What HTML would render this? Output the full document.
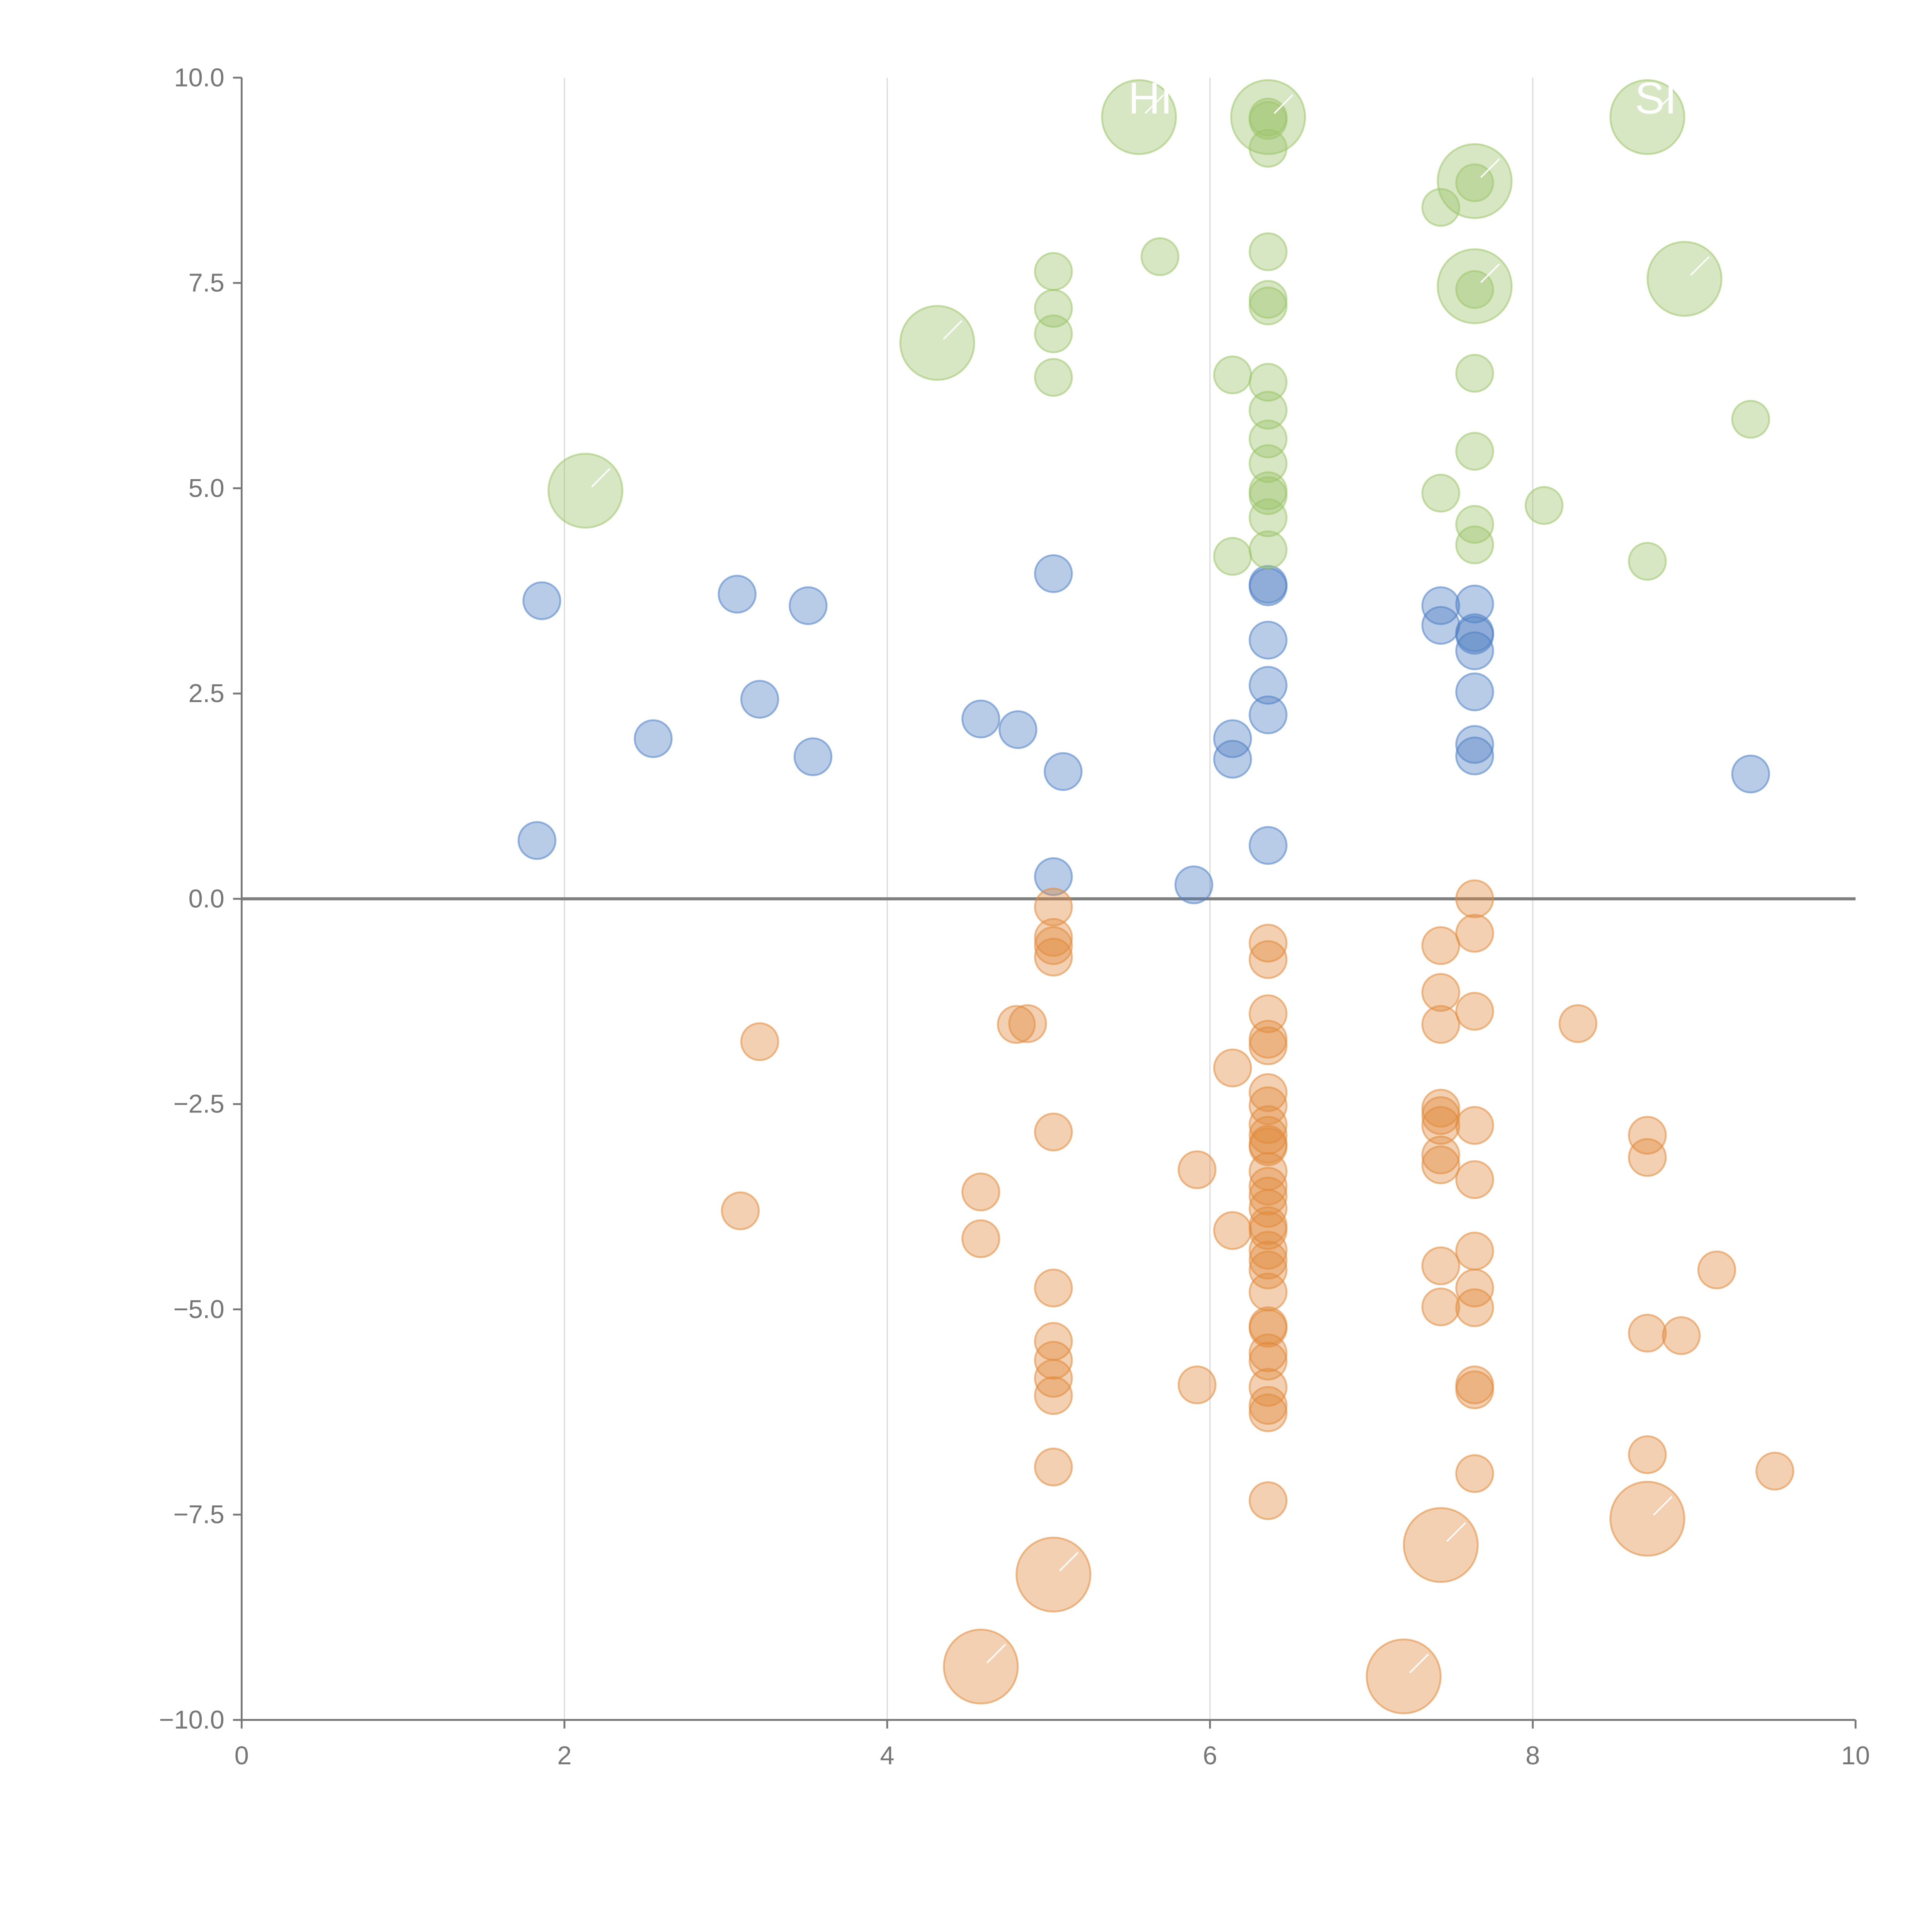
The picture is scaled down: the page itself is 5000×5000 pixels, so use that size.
<!DOCTYPE html>
<html><head><meta charset="utf-8"><style>
html,body{margin:0;padding:0;background:#fff;}
svg{display:block;}
text{font-family:"Liberation Sans",Arial,sans-serif;}
</style></head><body>
<svg id="chart" width="5000" height="5000" viewBox="0 0 1567 1567" xmlns="http://www.w3.org/2000/svg">
<g id="grid"></g>
<g id="axes"></g>
<g id="marks"></g>
<g id="labels"></g>
</svg>
<script>
const xTicks=[0,2,4,6,8,10];
const yTicks=[-10,-7.5,-5,-2.5,0,2.5,5,7.5,10];
const bluePoints=[[1.86,3.63],[3.07,3.71],[3.51,3.57],[3.21,2.43],[2.55,1.95],[3.54,1.73],[1.83,0.71],[4.58,2.19],[4.81,2.06],[5.09,1.55],[5.03,3.96],[5.03,0.27],[5.90,0.17],[6.14,1.95],[6.14,1.70],[6.36,3.83],[6.36,3.80],[6.36,3.15],[6.36,2.6],[6.36,2.24],[6.36,0.65],[7.43,3.57],[7.43,3.33],[7.64,3.59],[7.64,3.24],[7.64,3.21],[7.64,3.02],[7.64,2.52],[7.64,1.88],[7.64,1.74],[9.35,1.52]];
const greenPoints=[[5.03,7.64],[5.03,7.19],[5.03,6.88],[5.03,6.35],[5.69,7.82],[6.14,6.38],[6.14,4.17],[6.36,9.52],[6.36,9.48],[6.36,9.14],[6.36,7.88],[6.36,7.30],[6.36,7.22],[6.36,6.29],[6.36,5.95],[6.36,5.6],[6.36,5.3],[6.36,4.97],[6.36,4.91],[6.36,4.64],[6.36,4.25],[7.43,8.42],[7.43,4.94],[7.64,8.72],[7.64,7.42],[7.64,6.4],[7.64,5.45],[7.64,4.56],[7.64,4.31],[8.07,4.79],[8.71,4.11],[9.35,5.84]];
const greenBig=[[2.13,4.97],[4.31,6.77],[5.56,9.52],[6.36,9.52],[7.64,8.74],[7.64,7.46],[8.71,9.52],[8.94,7.55]];
const orangePoints=[[7.64,0.0],[5.03,-0.1],[5.03,-0.47],[5.03,-0.57],[5.03,-0.71],[3.21,-1.74],[3.09,-3.8],[4.80,-1.53],[4.87,-1.52],[4.58,-3.57],[4.58,-4.14],[5.03,-2.84],[5.03,-4.74],[5.03,-5.39],[5.03,-5.62],[5.03,-5.84],[5.03,-6.05],[5.03,-6.92],[5.92,-3.30],[5.92,-5.92],[6.14,-2.06],[6.14,-4.04],
[6.36,-0.54],[6.36,-0.74],[6.36,-1.40],[6.36,-1.71],[6.36,-1.79],[6.36,-2.36],[6.36,-2.52],[6.36,-2.75],[6.36,-2.88],[6.36,-2.99],[6.36,-3.02],[6.36,-3.32],[6.36,-3.50],[6.36,-3.62],[6.36,-3.77],[6.36,-3.98],[6.36,-4.04],[6.36,-4.28],[6.36,-4.40],[6.36,-4.52],[6.36,-4.79],[6.36,-5.20],[6.36,-5.23],[6.36,-5.53],[6.36,-5.63],[6.36,-5.95],[6.36,-6.17],[6.36,-6.26],[6.36,-7.33],
[7.43,-0.57],[7.43,-1.14],[7.43,-1.53],[7.43,-2.55],[7.43,-2.64],[7.43,-2.76],[7.43,-3.12],[7.43,-3.24],[7.43,-4.47],[7.43,-4.97],
[7.64,-0.42],[7.64,-1.37],[7.64,-2.76],[7.64,-3.42],[7.64,-4.29],[7.64,-4.74],[7.64,-4.98],[7.64,-5.92],[7.64,-5.98],[7.64,-7.00],
[8.28,-1.52],[8.71,-2.88],[8.71,-3.15],[8.71,-5.29],[8.71,-6.77],[8.92,-5.32],[9.14,-4.52],[9.50,-6.97]];
const orangeBig=[[5.03,-8.23],[4.58,-9.35],[7.20,-9.47],[7.43,-7.87],[8.71,-7.55]];

const X0=196,X1=1505,Y0=1395,Y1=63;
const sx=v=>X0+(v-0)/(10-0)*(X1-X0);
const sy=v=>Y0-(v+10)/20*(Y0-Y1);
const NS="http://www.w3.org/2000/svg";
function mk(parent,tag,attrs){const e=document.createElementNS(NS,tag);for(const k in attrs)e.setAttribute(k,attrs[k]);parent.appendChild(e);return e;}
const grid=document.getElementById('grid'),axes=document.getElementById('axes'),marks=document.getElementById('marks'),labels=document.getElementById('labels');

xTicks.forEach(t=>{
  if(t>0&&t<10){const g=mk(grid,'line',{x1:sx(t),x2:sx(t),y1:Y1,y2:Y0,stroke:'#dcdcdc','stroke-width':1});
  
  }
  const tk=mk(axes,'line',{x1:sx(t),x2:sx(t),y1:Y0,y2:Y0+7,stroke:'#777','stroke-width':1.5});
  
  
  const lb=mk(axes,'text',{x:sx(t),y:Y0+36,'text-anchor':'middle','font-size':21,fill:'#777'});
  lb.textContent=String(t);
  
  
});
yTicks.forEach(t=>{
  const tk=mk(axes,'line',{x1:X0-7,x2:X0,y1:sy(t),y2:sy(t),stroke:'#777','stroke-width':1.5});
  
  
  const lb=mk(axes,'text',{x:X0-14,y:sy(t)+7,'text-anchor':'end','font-size':21,fill:'#777'});
  lb.textContent=(t<0?'\u2212':'')+Math.abs(t).toFixed(1);
  
  
});
const ya=mk(axes,'line',{x1:X0,x2:X0,y1:Y1,y2:Y0,stroke:'#777','stroke-width':1.5});


const xa=mk(axes,'line',{x1:X0,x2:X1,y1:Y0,y2:Y0,stroke:'#777','stroke-width':1.5});


const zl=mk(axes,'line',{x1:X0,x2:X1,y1:sy(0),y2:sy(0),stroke:'#808080','stroke-width':2.5});



function drawSeries(arr,r,color,name){
  arr.forEach(p=>{
    const c=mk(marks,'circle',{cx:sx(p[0]),cy:sy(p[1]),r:r,fill:color,'fill-opacity':0.4,stroke:color,'stroke-opacity':0.55,'stroke-width':1.5});
    
    
  });
}
drawSeries(greenBig,30,'#9cc46a','green-big-point');
drawSeries(orangeBig,30,'#e08a3c','orange-big-point');
drawSeries(bluePoints,15,'#4f7fc4','blue-point');
drawSeries(greenPoints,15,'#9cc46a','green-point');
drawSeries(orangePoints,15,'#e08a3c','orange-point');

greenBig.concat(orangeBig).forEach(p=>{
  const l=mk(labels,'line',{x1:sx(p[0])+5,y1:sy(p[1])-3,x2:sx(p[0])+20,y2:sy(p[1])-18,stroke:'#fff','stroke-width':1.2});
  
  
});
const t1=mk(labels,'text',{x:915,y:92,'font-size':36,fill:'#fff'});t1.textContent='HI';


const t2=mk(labels,'text',{x:1326,y:92,'font-size':36,fill:'#fff'});t2.textContent='SI';


</script>
</body></html>
